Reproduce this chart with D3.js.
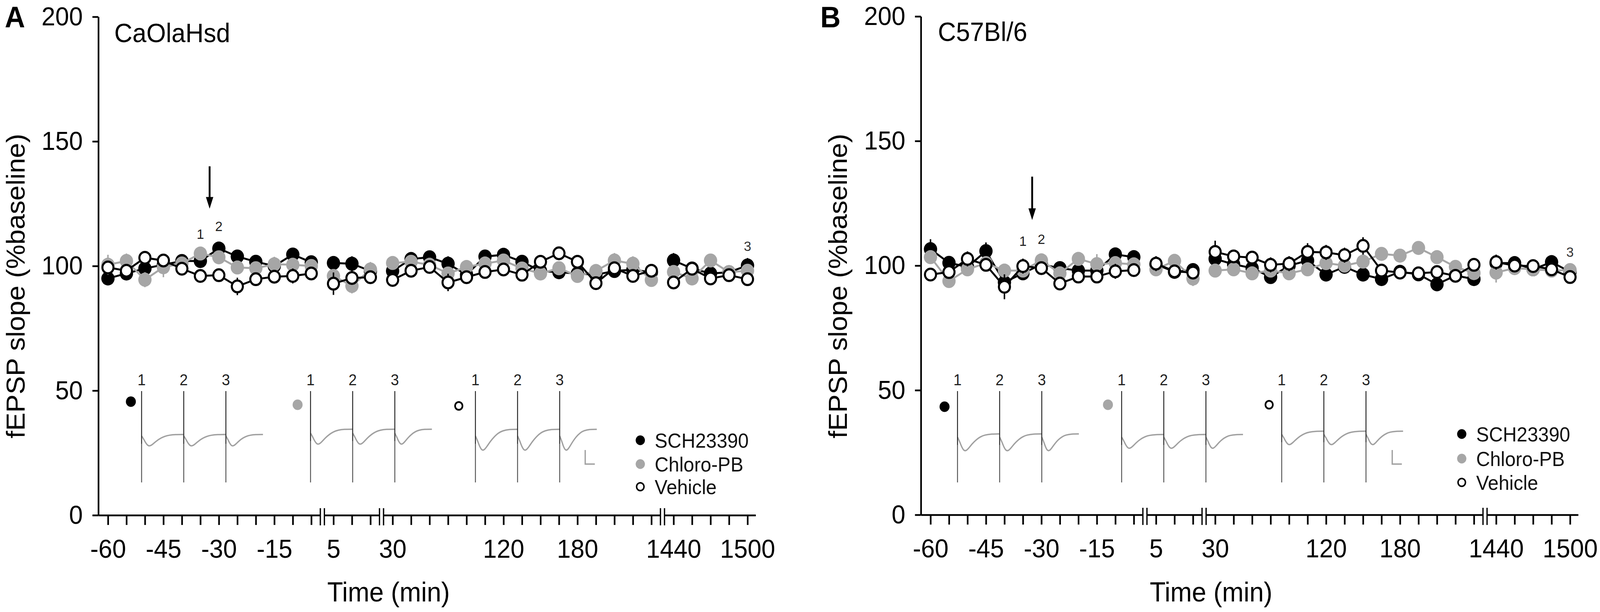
<!DOCTYPE html>
<html>
<head>
<meta charset="utf-8">
<script src="https://cdn.jsdelivr.net/npm/d3@7"></script>
<style>
  html, body { margin: 0; padding: 0; width: 100%; height: 100%; overflow: hidden; background: #fff; }
  svg { display: block; font-family: "Liberation Sans", Arial, sans-serif; }
</style>
</head>
<body>
<svg viewBox="0 0 4328 1568" preserveAspectRatio="none" style="width:100vw;height:100vh"></svg>
<script>
// ---- data ----
// recording times (min), split where the axis is broken
const timesBaseline = [-60, -55, -50, -45, -40, -35, -30, -25, -20, -15, -10, -5];
const timesEarly    = [5, 10, 15];
const timesLate     = [30, 45, 60, 75, 90, 105, 120, 135, 150, 165, 180, 195, 210, 225, 240];
const timesNextDay  = [1440, 1455, 1470, 1485, 1500];
const xTickLabels   = [-60, -45, -30, -15, 5, 30, 120, 180, 1440, 1500];
const yTickValues   = [0, 50, 100, 150, 200];
const seriesNames   = ['SCH23390', 'Chloro-PB', 'Vehicle'];
const traceNumbers  = ['1', '2', '3'];

// panel A, CaOlaHsd (% baseline)
const schA = [95, 97, 99, 100.5, 102, 102, 107, 103.8, 101.7, 100, 104.6, 101.5,
              101.2, 100.9, 98,
              98, 102.8, 103.5, 100.9, 96.5, 103.8, 104.5, 101.7, 98, 97.5, 97, 96.5, 98, 98.5, 97.5,
              102.2, 99, 97, 97.5, 100.2];
const schASem = [2, 2, 3, 2, 2, 2, 2.5, 2, 2, 2, 2, 2,
                 2, 3, 2,
                 2, 2, 2, 3, 2, 2, 2, 2, 2, 2, 2, 2, 2, 2, 2,
                 3, 2, 2, 2, 3];
const chlA = [100.5, 102, 94.5, 99.5, 101, 105, 103.5, 99.4, 99.1, 100.7, 100.5, 100,
              96, 92, 98.6,
              101.2, 101.7, 100.5, 97, 99.6, 101, 102.2, 99, 97, 99.1, 96, 98, 102.2, 100.9, 94.4,
              97.6, 95, 102.2, 97.5, 98.1];
const chlASem = [4, 3, 3, 4, 2, 2, 2, 2, 2, 3, 2, 2,
                 2, 3, 3,
                 2, 2, 2, 2, 2, 2, 2, 2, 2, 2, 2, 2, 3, 3, 2,
                 2, 2, 2, 2, 2];
const vehA = [99.4, 98.1, 103.3, 102.2, 98.9, 96, 96.3, 91.8, 94.7, 95.7, 96, 97,
              92.9, 95.2, 95.5,
              94.4, 98.1, 99.6, 93.4, 95.5, 97.6, 98.6, 96.5, 101.7, 105.1, 101.7, 93.1, 99.1, 96, 98.1,
              93.4, 98.9, 95, 96.3, 94.7];
const vehASem = [2, 2, 2, 2, 2, 2, 2, 3.5, 2, 2, 3, 2,
                 4.5, 2, 2,
                 2, 2, 2, 3.5, 2, 2, 2, 2, 2, 2, 2, 2, 2, 2, 2,
                 2, 2, 2, 2, 2];

// panel B, C57Bl/6 (% baseline)
const schB = [106.6, 101.1, 99.5, 105.8, 93.3, 96.9, 100.5, 99, 98, 98, 104.5, 103.4,
              100.5, 97.5, 98.2,
              102.7, 100.5, 99, 95.4, 100, 102, 96.4, 99.5, 96.4, 94.6, 97.5, 96.5, 92.5, 96, 94.6,
              101, 101, 98.5, 101.4, 97.5];
const schBSem = [4, 2, 2, 3.5, 2, 2, 2, 2, 2, 2, 2, 2,
                 2, 2, 2,
                 2, 2, 2, 2, 2, 2, 2, 2, 2, 2, 2, 2, 2, 2, 2,
                 2, 2, 2, 2, 2];
const chlB = [103.4, 93.8, 98.5, 101, 98, 98, 102.1, 96.9, 102.7, 100.6, 101, 100.5,
              98.5, 101.9, 94.8,
              98, 98.5, 96.9, 98, 96.9, 98.5, 101, 100, 101.6, 104.7, 104, 107.1, 103.4, 99.5, 97,
              97.2, 99, 98.5, 98, 98.2];
const chlBSem = [2, 2, 2, 2, 2, 2, 2, 2, 2, 4, 2, 2,
                 2, 2, 3,
                 2, 2, 2, 2, 2, 2, 2, 2, 2, 2, 2, 2, 2, 2, 2,
                 4, 2, 2, 2, 2];
const vehB = [96.4, 97.4, 102.7, 100.3, 91.5, 99.8, 99, 92.8, 95.6, 95.6, 97.7, 98.2,
              100.8, 97.7, 97.2,
              105.5, 103.7, 103.2, 100.3, 100.8, 105.5, 105.3, 104.2, 107.9, 98, 97.2, 96.9, 97.4, 95.9, 100.3,
              101.4, 100, 99.8, 98.5, 95.4];
const vehBSem = [2, 2, 3, 2, 5, 3, 2, 2, 2, 2, 3, 2,
                 3, 2, 2,
                 4.5, 2, 2, 3, 3, 3.5, 3, 3, 3.5, 2, 2, 2, 2, 2, 2,
                 3, 2, 2, 2, 2];

// example fEPSP sweeps (mV): negative peak and late rebound, per group (SCH, Chloro, Vehicle)
const traceDepthA   = [0.36, 0.41, 0.54];
const traceReboundA = [0.05, 0.14, 0.23];
const traceDepthB   = [0.50, 0.41, 0.38];
const traceReboundB = [0.11, 0.09, 0.11];
// sweep template: fraction of sweep, dip and rebound weights
const sweepT    = [0, 0.05, 0.1, 0.15, 0.2, 0.27, 0.35, 0.45, 0.55, 0.65, 0.8, 1];
const sweepDip  = [0, 0.3, 0.7, 0.95, 1, 0.82, 0.55, 0.3, 0.14, 0.05, 0, 0];
const sweepRise = [0, 0.02, 0.05, 0.1, 0.18, 0.3, 0.45, 0.63, 0.8, 0.92, 1, 1];

// ---- layout ----
const segments = [timesBaseline, timesEarly, timesLate, timesNextDay];
const segStart = [0, 12.2, 15.4, 30.6];     // slot where each axis segment begins
const breakSlots = [11.6, 14.8, 30.0];
const allTimes = segments.flat();

function slotOf(t) {
    for (let i = 0; i < segments.length; i++) {
        let k = segments[i].indexOf(t);
        if (k >= 0) return segStart[i] + k;
    }
    return null;
}

function segIndex(t) {
    return segments.findIndex(s => s.includes(t));
}

const GRAY = '#a6a6a6';
const styles = [
    {fill: '#000', line: '#000'},
    {fill: GRAY, line: GRAY},
    {fill: '#fff', line: '#000'}
];

const panels = [
    {letter: 'A', strain: 'CaOlaHsd', x0: 266, yTop: 43, yBot: 1320, letterX: 13, titleX: 309, titleY: 108,
     series: [[schA, schASem], [chlA, chlASem], [vehA, vehASem]],
     arrow: [140, 123], lab12Y: [612, 592], lab3Y: 643,
     art: [383, 840, 1286], base: [1117, 1110, 1117], depth: traceDepthA, rebound: traceReboundA,
     markX: [354, 805, 1241], markY: [1029, 1037, 1040], bar: [1583, 1153],
     legX: 1732, legY: [1128, 1189, 1247]},
    {letter: 'B', strain: 'C57Bl/6', x0: 2491, yTop: 42, yBot: 1319, letterX: 2219, titleX: 2537, titleY: 105,
     series: [[schB, schBSem], [chlB, chlBSem], [vehB, vehBSem]],
     arrow: [135.7, 118.3], lab12Y: [630, 625], lab3Y: 658,
     art: [2590, 3034, 3467], base: [1120, 1120, 1113], depth: traceDepthB, rebound: traceReboundB,
     markX: [2555, 2997, 3433], markY: [1042, 1037, 1037], bar: [3766, 1153],
     legX: 3954, legY: [1112, 1175, 1236]}
];

const svg = d3.select('svg');

panels.forEach(drawPanel);

function drawPanel(p) {
    const g = svg.append('g');
    const x = d3.scaleLinear().domain([-0.52, 35.04]).range([p.x0, p.x0 + 1778]);
    const y = d3.scaleLinear().domain([0, 200]).range([p.yBot, p.yTop]);

    // y axis
    const axisY = d3.axisLeft(y).tickValues(yTickValues).tickSize(16).tickSizeOuter(0).tickPadding(26);
    const yG = g.append('g').attr('transform', `translate(${p.x0},0)`).call(axisY);
    yG.selectAll('path, line').attr('stroke', '#000').attr('stroke-width', 4.5);
    yG.selectAll('text').attr('font-size', 67).attr('fill', '#000');
    yG.attr('font-family', null);

    // x axis, one tick per recording time
    const tickSlots = allTimes.map(slotOf);
    const labelSlots = xTickLabels.map(slotOf);
    const axisX = d3.axisBottom(x).tickValues(tickSlots).tickSize(25).tickSizeOuter(0).tickPadding(36)
        .tickFormat(s => {
            let i = labelSlots.indexOf(s);
            return i >= 0 ? xTickLabels[i] : '';
        });
    const xG = g.append('g').attr('transform', `translate(0,${p.yBot})`).call(axisX);
    xG.selectAll('path, line').attr('stroke', '#000').attr('stroke-width', 4.5);
    xG.selectAll('text').attr('font-size', 67).attr('fill', '#000');
    xG.attr('font-family', null);

    // axis breaks
    breakSlots.forEach(s => {
        const bx = x(s);
        g.append('rect').attr('x', bx - 5.5).attr('y', p.yBot - 8).attr('width', 11).attr('height', 16)
            .attr('fill', '#fff');
        [-5.5, 5.5].forEach(dx => {
            g.append('line').attr('x1', bx + dx).attr('x2', bx + dx)
                .attr('y1', p.yBot - 18).attr('y2', p.yBot + 26)
                .attr('stroke', '#000').attr('stroke-width', 3.5);
        });
    });

    // labels
    g.append('text').attr('x', p.letterX).attr('y', 70).attr('font-size', 76).attr('font-weight', 'bold')
        .text(p.letter);
    g.append('text').attr('x', p.titleX).attr('y', p.titleY).attr('font-size', 68).text(p.strain);
    g.append('text').attr('transform', `translate(${p.x0 - 225},733) rotate(-90)`)
        .attr('text-anchor', 'middle').attr('dy', '0.36em').attr('font-size', 70)
        .text('fEPSP slope (%baseline)');
    g.append('text').attr('x', p.x0 + 785).attr('y', 1541).attr('text-anchor', 'middle')
        .attr('font-size', 70).text('Time (min)');

    // data: lines per axis segment, error bars, markers
    p.series.forEach(([vals, sem], si) => {
        const st = styles[si];
        const pts = allTimes.map((t, i) => ({s: slotOf(t), v: vals[i], e: sem[i], seg: segIndex(t)}));
        const sg = g.append('g');
        const line = d3.line().x(d => x(d.s)).y(d => y(d.v));
        d3.range(segments.length).forEach(k => {
            sg.append('path').datum(pts.filter(d => d.seg === k))
                .attr('d', line).attr('fill', 'none')
                .attr('stroke', st.line).attr('stroke-width', 5);
        });
        sg.selectAll('line.err').data(pts).enter().append('line').attr('class', 'err')
            .attr('x1', d => x(d.s)).attr('x2', d => x(d.s))
            .attr('y1', d => y(d.v - d.e)).attr('y2', d => y(d.v + d.e))
            .attr('stroke', st.line).attr('stroke-width', 4);
        sg.selectAll('circle').data(pts).enter().append('circle')
            .attr('cx', d => x(d.s)).attr('cy', d => y(d.v))
            .attr('r', si === 2 ? 15 : 18)
            .attr('fill', st.fill)
            .attr('stroke', si === 2 ? '#000' : 'none').attr('stroke-width', 5.5);
    });

    // arrow at drug application, with sample numbers 1-2-3
    const ax = (x(slotOf(-35)) + x(slotOf(-30))) / 2;
    const ay1 = y(p.arrow[0]), ay2 = y(p.arrow[1]);
    g.append('line').attr('x1', ax).attr('x2', ax).attr('y1', ay1).attr('y2', ay2 - 24)
        .attr('stroke', '#000').attr('stroke-width', 5);
    g.append('path').attr('d', `M${ax - 10},${ay2 - 30} L${ax + 10},${ay2 - 30} L${ax},${ay2} Z`).attr('fill', '#000');
    g.append('text').attr('x', x(slotOf(-35))).attr('y', p.lab12Y[0]).attr('text-anchor', 'middle')
        .attr('font-size', 36).attr('fill', '#222').text('1');
    g.append('text').attr('x', x(slotOf(-30))).attr('y', p.lab12Y[1]).attr('text-anchor', 'middle')
        .attr('font-size', 36).attr('fill', '#222').text('2');
    g.append('text').attr('x', x(slotOf(1500))).attr('y', p.lab3Y).attr('text-anchor', 'middle')
        .attr('font-size', 36).attr('fill', '#333').text('3');

    // example sweeps
    const mv = d3.scaleLinear().domain([0, 1]).range([0, 74]);
    const sweepW = 114;
    p.art.forEach((a0, gi) => {
        const ig = g.append('g');
        traceNumbers.forEach((num, k) => {
            const ax0 = a0 + k * sweepW;
            const w = k < 2 ? sweepW : sweepW * 0.88;
            const sx = d3.scaleLinear().domain([0, 1]).range([ax0, ax0 + w]);
            const pts = sweepT.map((t, i) => [sx(t),
                p.base[gi] + mv(p.depth[gi]) * sweepDip[i] - mv(p.rebound[gi]) * sweepRise[i]]);
            ig.append('path').attr('d', d3.line().curve(d3.curveBasis)(pts))
                .attr('fill', 'none').attr('stroke', '#a0a0a0').attr('stroke-width', 3.5);
            ig.append('line').attr('x1', ax0).attr('x2', ax0).attr('y1', 1002).attr('y2', p.base[gi] + 20)
                .attr('stroke', '#222').attr('stroke-width', 2.5);
            ig.append('line').attr('x1', ax0).attr('x2', ax0).attr('y1', p.base[gi] + 20).attr('y2', 1236)
                .attr('stroke', '#555').attr('stroke-width', 2.5);
            ig.append('text').attr('x', ax0).attr('y', 987).attr('text-anchor', 'middle')
                .attr('font-size', 40).attr('fill', '#222').text(num);
        });
        const st = styles[gi];
        ig.append('circle').attr('cx', p.markX[gi]).attr('cy', p.markY[gi])
            .attr('r', gi === 2 ? 10 : 13.5).attr('fill', st.fill)
            .attr('stroke', gi === 2 ? '#000' : 'none').attr('stroke-width', 4.5);
    });

    // scale bar
    g.append('path').attr('d', `M${p.bar[0]},${p.bar[1]} V${p.bar[1] + 36} H${p.bar[0] + 26}`)
        .attr('fill', 'none').attr('stroke', '#a0a0a0').attr('stroke-width', 3.5);

    // legend
    seriesNames.forEach((name, i) => {
        const st = styles[i];
        g.append('circle').attr('cx', p.legX).attr('cy', p.legY[i]).attr('r', i === 2 ? 10 : 12.5)
            .attr('fill', st.fill).attr('stroke', i === 2 ? '#000' : 'none').attr('stroke-width', 4);
        g.append('text').attr('x', p.legX + 39).attr('y', p.legY[i]).attr('dy', '0.36em')
            .attr('font-size', 52).attr('fill', '#111').text(name);
    });
}
</script>
</body>
</html>
